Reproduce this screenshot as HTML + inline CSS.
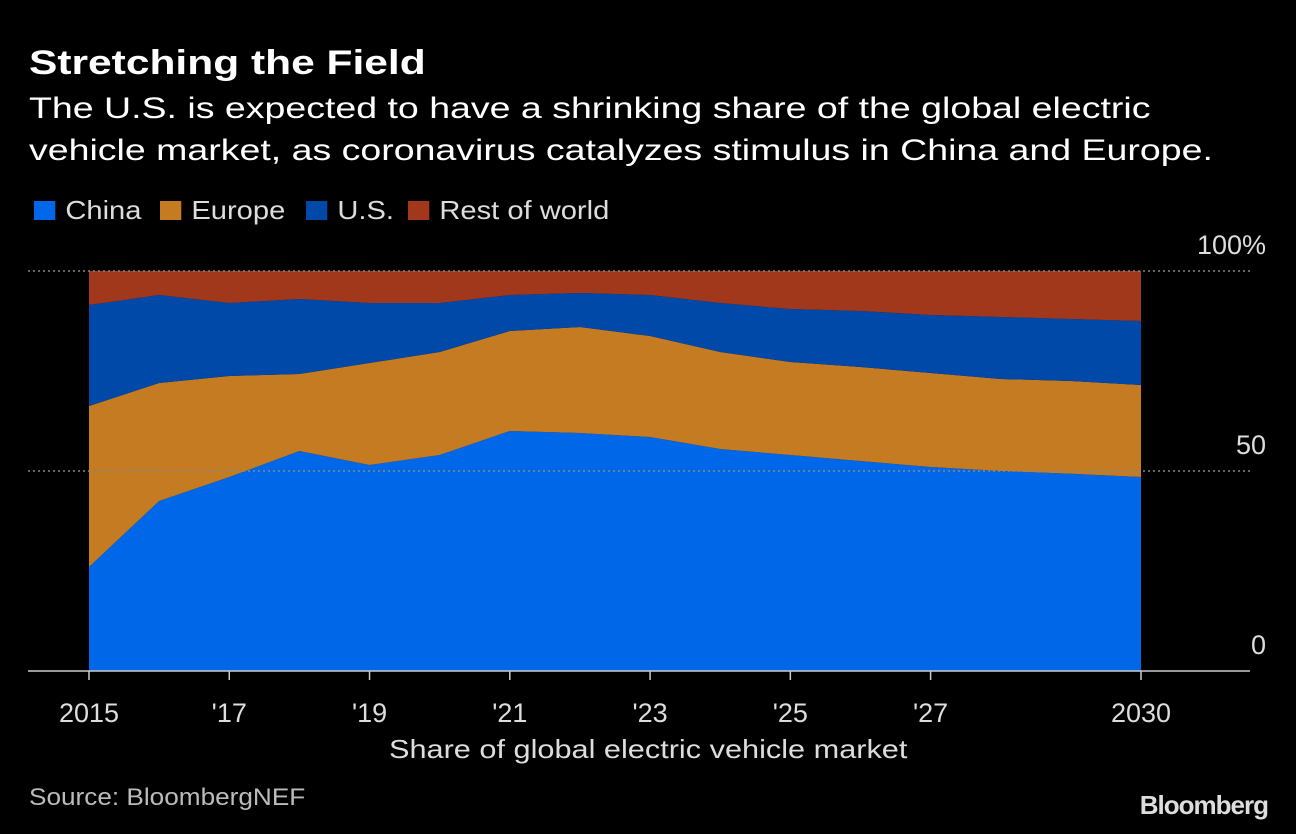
<!DOCTYPE html>
<html><head><meta charset="utf-8"><style>
html,body{margin:0;padding:0;background:#000;}
body{width:1296px;height:834px;position:relative;overflow:hidden;font-family:"Liberation Sans",sans-serif;color:#fff;}
.t{position:absolute;white-space:nowrap;transform-origin:0 0;}
.sw{display:inline-block;width:19px;height:19px;margin-right:9px;vertical-align:-1px;}
</style></head><body>
<div class="t" style="left:29px;top:44px;font-size:34px;font-weight:bold;transform:scaleX(1.25);">Stretching the Field</div>
<div class="t" style="left:29px;top:88px;font-size:30px;line-height:42px;transform:scaleX(1.25);">The U.S. is expected to have a shrinking share of the global electric<br>vehicle market, as coronavirus catalyzes stimulus in China and Europe.</div>
<div class="t" style="left:34px;top:195px;font-size:26px;color:#ddd;transform:scaleX(1.12);"><span class="sw" style="background:#0068e8;"></span>China</div>
<div class="t" style="left:160px;top:195px;font-size:26px;color:#ddd;transform:scaleX(1.12);"><span class="sw" style="background:#c57b22;"></span>Europe</div>
<div class="t" style="left:306px;top:195px;font-size:26px;color:#ddd;transform:scaleX(1.12);"><span class="sw" style="background:#0049a8;"></span>U.S.</div>
<div class="t" style="left:408px;top:195px;font-size:26px;color:#ddd;transform:scaleX(1.12);"><span class="sw" style="background:#a1381c;"></span>Rest of world</div>
<svg id="chart" width="1296" height="834" style="position:absolute;left:0;top:0;"></svg>
<div class="t" style="left:389px;top:734px;font-size:26px;color:#ddd;transform:scaleX(1.18);">Share of global electric vehicle market</div>
<div class="t" style="left:29px;top:784px;font-size:24px;color:#bbb;transform:scaleX(1.09);">Source: BloombergNEF</div>
<div class="t" style="right:28px;top:790px;font-size:26px;font-weight:bold;color:#ddd;letter-spacing:-1px;">Bloomberg</div>
<script>
const years=[2015,2016,2017,2018,2019,2020,2021,2022,2023,2024,2025,2026,2027,2028,2029,2030];
const china=[26,42.5,48.5,55,51.5,54,60,59.5,58.5,55.5,54,52.5,51,50,49.3,48.5];
const europe=[40.25,29.5,25.25,19.25,25.5,25.75,25,26.5,25.25,24.25,23.25,23.5,23.5,23,23.2,23];
const us=[25.25,22,18.25,18.75,15,12.25,9,8.5,10.25,12.25,13.25,14,14.5,15.5,15.5,16];
const rest=[8.5,6,8,7,8,8,6,5.5,6,8,9.5,10,11,11.5,12,12.5];
const xTicks=[2015,2017,2019,2021,2023,2025,2027,2030];
const xTickLabels=["2015","'17","'19","'21","'23","'25","'27","2030"];
const yTicks=[0,50,100];
const yTickLabels=["0","50","100%"];
const svg=document.getElementById('chart');
const NS='http://www.w3.org/2000/svg';
const x=v=>89+(v-2015)*(1141-89)/15;
const y=v=>671-v*4;
function mk(tag,attrs){const e=document.createElementNS(NS,tag);for(const k in attrs)e.setAttribute(k,attrs[k]);svg.appendChild(e);return e;}
const series=[["china",china,"#0068e8"],["europe",europe,"#c57b22"],["us",us,"#0049a8"],["rest-of-world",rest,"#a1381c"]];
let base=years.map(()=>0);
series.forEach(([name,vals,col])=>{
  const top=base.map((b,i)=>b+vals[i]);
  let d=years.map((yr,i)=>(i?'L':'M')+x(yr)+','+y(top[i])).join('');
  for(let i=years.length-1;i>=0;i--)d+='L'+x(years[i])+','+y(base[i]);
  const p=mk('path',{d:d+'Z',fill:col});
  
  
  base=top;
});
yTicks.forEach((v,i)=>{
  if(v>0){const l=mk('line',{x1:28,x2:1250,y1:y(v),y2:y(v),stroke:'#888','stroke-width':1.5,'stroke-dasharray':'2,3'});
  
  }
  const t=mk('text',{x:1266,y:y(v)-17,'text-anchor':'end',fill:'#ddd','font-size':27,'font-family':'Liberation Sans, sans-serif'});
  t.textContent=yTickLabels[i];
  
  
});
const ax=mk('line',{x1:28,x2:1250,y1:671,y2:671,stroke:'#ccc','stroke-width':1.5});


xTicks.forEach((v,i)=>{
  const tk=mk('line',{x1:x(v),x2:x(v),y1:671,y2:680,stroke:'#ccc','stroke-width':1.5});
  
  
  const t=mk('text',{x:x(v),y:722,'text-anchor':'middle',fill:'#ddd','font-size':27,'font-family':'Liberation Sans, sans-serif'});
  t.textContent=xTickLabels[i];
  
  
});
</script>
</body></html>
